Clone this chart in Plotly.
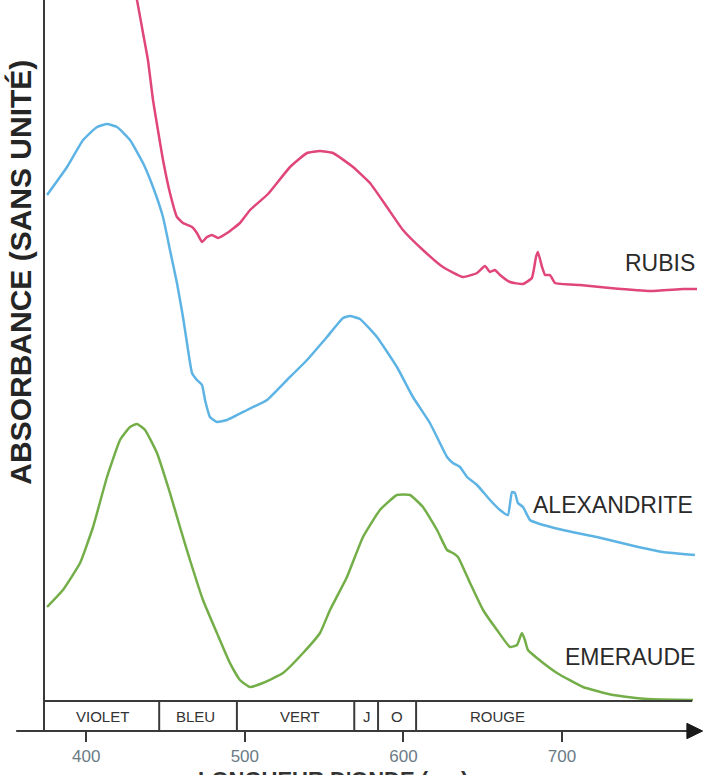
import plotly.graph_objects as go

# ---------------- data (wavelength nm, absorbance arbitrary units) ----------------
rubis_nm = [430.7, 432.0, 435.8, 438.9, 442.1, 445.2, 448.4, 452.8, 457.2, 461.0, 466.7, 469.8,
            473.0, 476.1, 479.3, 483.1, 488.8, 496.9, 503.3, 514.6, 528.5, 539.2, 547.4, 555.6,
            568.2, 578.9, 589.6, 599.7, 612.3, 624.9, 637.5, 646.4, 651.4, 654.6, 657.7, 660.9,
            667.2, 675.4, 681.0, 683.6, 684.8, 687.4, 689.3, 692.4, 695.6, 711.3, 730.2, 755.5,
            776.3, 785.1]
rubis_abs = [7.41, 7.31, 6.98, 6.71, 6.31, 6.01, 5.71, 5.38, 5.14, 5.08, 5.04, 4.98,
             4.89, 4.94, 4.96, 4.93, 4.98, 5.08, 5.21, 5.37, 5.64, 5.78, 5.80, 5.78,
             5.64, 5.48, 5.24, 5.01, 4.81, 4.64, 4.54, 4.58, 4.65, 4.59, 4.61, 4.56,
             4.49, 4.47, 4.53, 4.74, 4.79, 4.64, 4.56, 4.56, 4.48, 4.46, 4.43, 4.40,
             4.42, 4.42]

alex_nm = [375.3, 387.9, 398.0, 406.8, 413.1, 419.4, 427.6, 435.8, 442.1, 448.4, 452.8, 457.2,
           461.0, 464.2, 466.7, 469.8, 473.0, 474.9, 478.0, 482.4, 488.8, 501.4, 514.0, 526.6,
           539.2, 551.8, 561.9, 566.3, 572.6, 583.3, 595.9, 606.0, 616.7, 627.5, 631.2, 635.7,
           640.1, 646.4, 654.6, 660.9, 665.9, 668.4, 670.3, 672.2, 675.4, 679.8, 684.2, 700.6,
           722.0, 742.8, 763.6, 783.8]
alex_abs = [5.36, 5.64, 5.91, 6.04, 6.07, 6.04, 5.91, 5.68, 5.44, 5.14, 4.81, 4.48,
            4.14, 3.81, 3.58, 3.51, 3.46, 3.31, 3.14, 3.09, 3.11, 3.21, 3.31, 3.51,
            3.71, 3.94, 4.13, 4.15, 4.12, 3.94, 3.64, 3.34, 3.08, 2.74, 2.68, 2.64,
            2.54, 2.46, 2.31, 2.21, 2.16, 2.39, 2.38, 2.28, 2.24, 2.11, 2.08, 2.01,
            1.94, 1.86, 1.79, 1.76]

emer_nm = [375.3, 385.3, 396.1, 404.3, 413.1, 421.3, 427.6, 432.0, 437.1, 444.6, 452.8, 459.1,
           465.4, 473.6, 482.4, 490.6, 496.9, 503.3, 511.4, 524.1, 536.7, 547.4, 553.7, 564.4,
           574.5, 585.2, 595.9, 604.1, 612.3, 621.2, 627.5, 631.2, 634.4, 642.0, 650.2, 659.0,
           667.2, 671.6, 674.7, 676.6, 678.5, 684.2, 696.8, 713.2, 732.1, 753.6, 782.6]
emer_abs = [1.24, 1.41, 1.68, 2.04, 2.54, 2.91, 3.04, 3.07, 3.01, 2.78, 2.38, 2.04,
            1.71, 1.31, 0.98, 0.68, 0.51, 0.44, 0.48, 0.58, 0.78, 0.98, 1.21, 1.54,
            1.94, 2.21, 2.36, 2.36, 2.24, 2.01, 1.81, 1.78, 1.74, 1.48, 1.21, 1.01,
            0.84, 0.86, 0.98, 0.91, 0.81, 0.73, 0.58, 0.44, 0.36, 0.32, 0.31]

band_names = ["VIOLET", "BLEU", "VERT", "J", "O", "ROUGE"]
band_edges = [446, 495, 569, 584, 608]
band_label_nm = [410, 468.6, 534.8, 577, 596, 659]

tick_vals = [400, 500, 600, 700]
tick_text = ["400", "500", "600", "700"]

series_names = ["RUBIS", "ALEXANDRITE", "EMERAUDE"]
label_nm = [785.1, 783.8, 785.0]
label_abs = [4.68, 2.26, 0.74]

# ---------------- figure ----------------
FONT = "Liberation Sans, Arial, sans-serif"
X_RANGE = [374, 787]
Y_RANGE = [0, 7.31]
STRIP_TOP = 0.30

fig = go.Figure()
fig.add_trace(go.Scatter(x=rubis_nm, y=rubis_abs, mode="lines",
                         line=dict(color="#E0457B", width=2.5, shape="spline", smoothing=0.4)))
fig.add_trace(go.Scatter(x=alex_nm, y=alex_abs, mode="lines",
                         line=dict(color="#5DB4E4", width=2.5, shape="spline", smoothing=0.4)))
fig.add_trace(go.Scatter(x=emer_nm, y=emer_abs, mode="lines",
                         line=dict(color="#73AE48", width=2.5, shape="spline", smoothing=0.4)))

AX = "#3a3a3a"
shapes = []
shapes.append(dict(type="line", xref="x", yref="y", x0=X_RANGE[0], x1=782, y0=STRIP_TOP, y1=STRIP_TOP,
                   line=dict(color=AX, width=2)))
for e in band_edges:
    shapes.append(dict(type="line", xref="x", yref="y", x0=e, x1=e, y0=0, y1=STRIP_TOP,
                       line=dict(color=AX, width=2)))
shapes.append(dict(type="line", xref="paper", yref="paper", x0=-0.044, x1=0.985, y0=0, y1=0,
                   line=dict(color=AX, width=2)))
shapes.append(dict(type="path", xref="paper", yref="paper",
                   path="M 0.980 0.0105 L 1.004 0 L 0.980 -0.0105 Z",
                   fillcolor="#1a1a1a", line=dict(color="#1a1a1a", width=1)))

annotations = []
for name, xn in zip(band_names, band_label_nm):
    annotations.append(dict(x=xn, y=STRIP_TOP / 2, xref="x", yref="y", text=name, showarrow=False,
                            font=dict(family=FONT, size=15, color="#333333"),
                            xanchor="center", yanchor="middle"))
for name, xn, yn in zip(series_names, label_nm, label_abs):
    annotations.append(dict(x=xn, y=yn, xref="x", yref="y", text=name, showarrow=False,
                            font=dict(family=FONT, size=23, color="#2a2a2a"),
                            xanchor="right", yanchor="middle"))
annotations.append(dict(x=-0.037, y=0.628, xref="paper", yref="paper",
                        text="<b>ABSORBANCE (SANS UNITÉ)</b>", textangle=-90, showarrow=False,
                        font=dict(family=FONT, size=30, color="#252525"),
                        xanchor="center", yanchor="middle"))
annotations.append(dict(x=0.23, y=-0.046, xref="paper", yref="paper",
                        text="<b>LONGUEUR D'ONDE (nm)</b>", showarrow=False,
                        font=dict(family=FONT, size=22, color="#333333"),
                        xanchor="left", yanchor="top"))

fig.update_layout(
    width=714, height=775, autosize=False,
    margin=dict(l=45, r=14, t=0, b=44, pad=0),
    paper_bgcolor="white", plot_bgcolor="white",
    showlegend=False, hovermode=False,
    shapes=shapes, annotations=annotations,
    xaxis=dict(range=X_RANGE, tickvals=tick_vals, ticktext=tick_text, ticks="outside",
               ticklen=10, tickwidth=2, tickcolor=AX, showline=False, showgrid=False,
               zeroline=False, tickfont=dict(family=FONT, size=17, color="#6b7b86")),
    yaxis=dict(range=Y_RANGE, showticklabels=False, ticks="", showgrid=False, zeroline=False,
               showline=True, linecolor=AX, linewidth=2),
)

fig.write_html("out.html", config={"displayModeBar": False, "staticPlot": True},
               post_script="document.body.style.margin='0';document.body.style.overflow='hidden';")
